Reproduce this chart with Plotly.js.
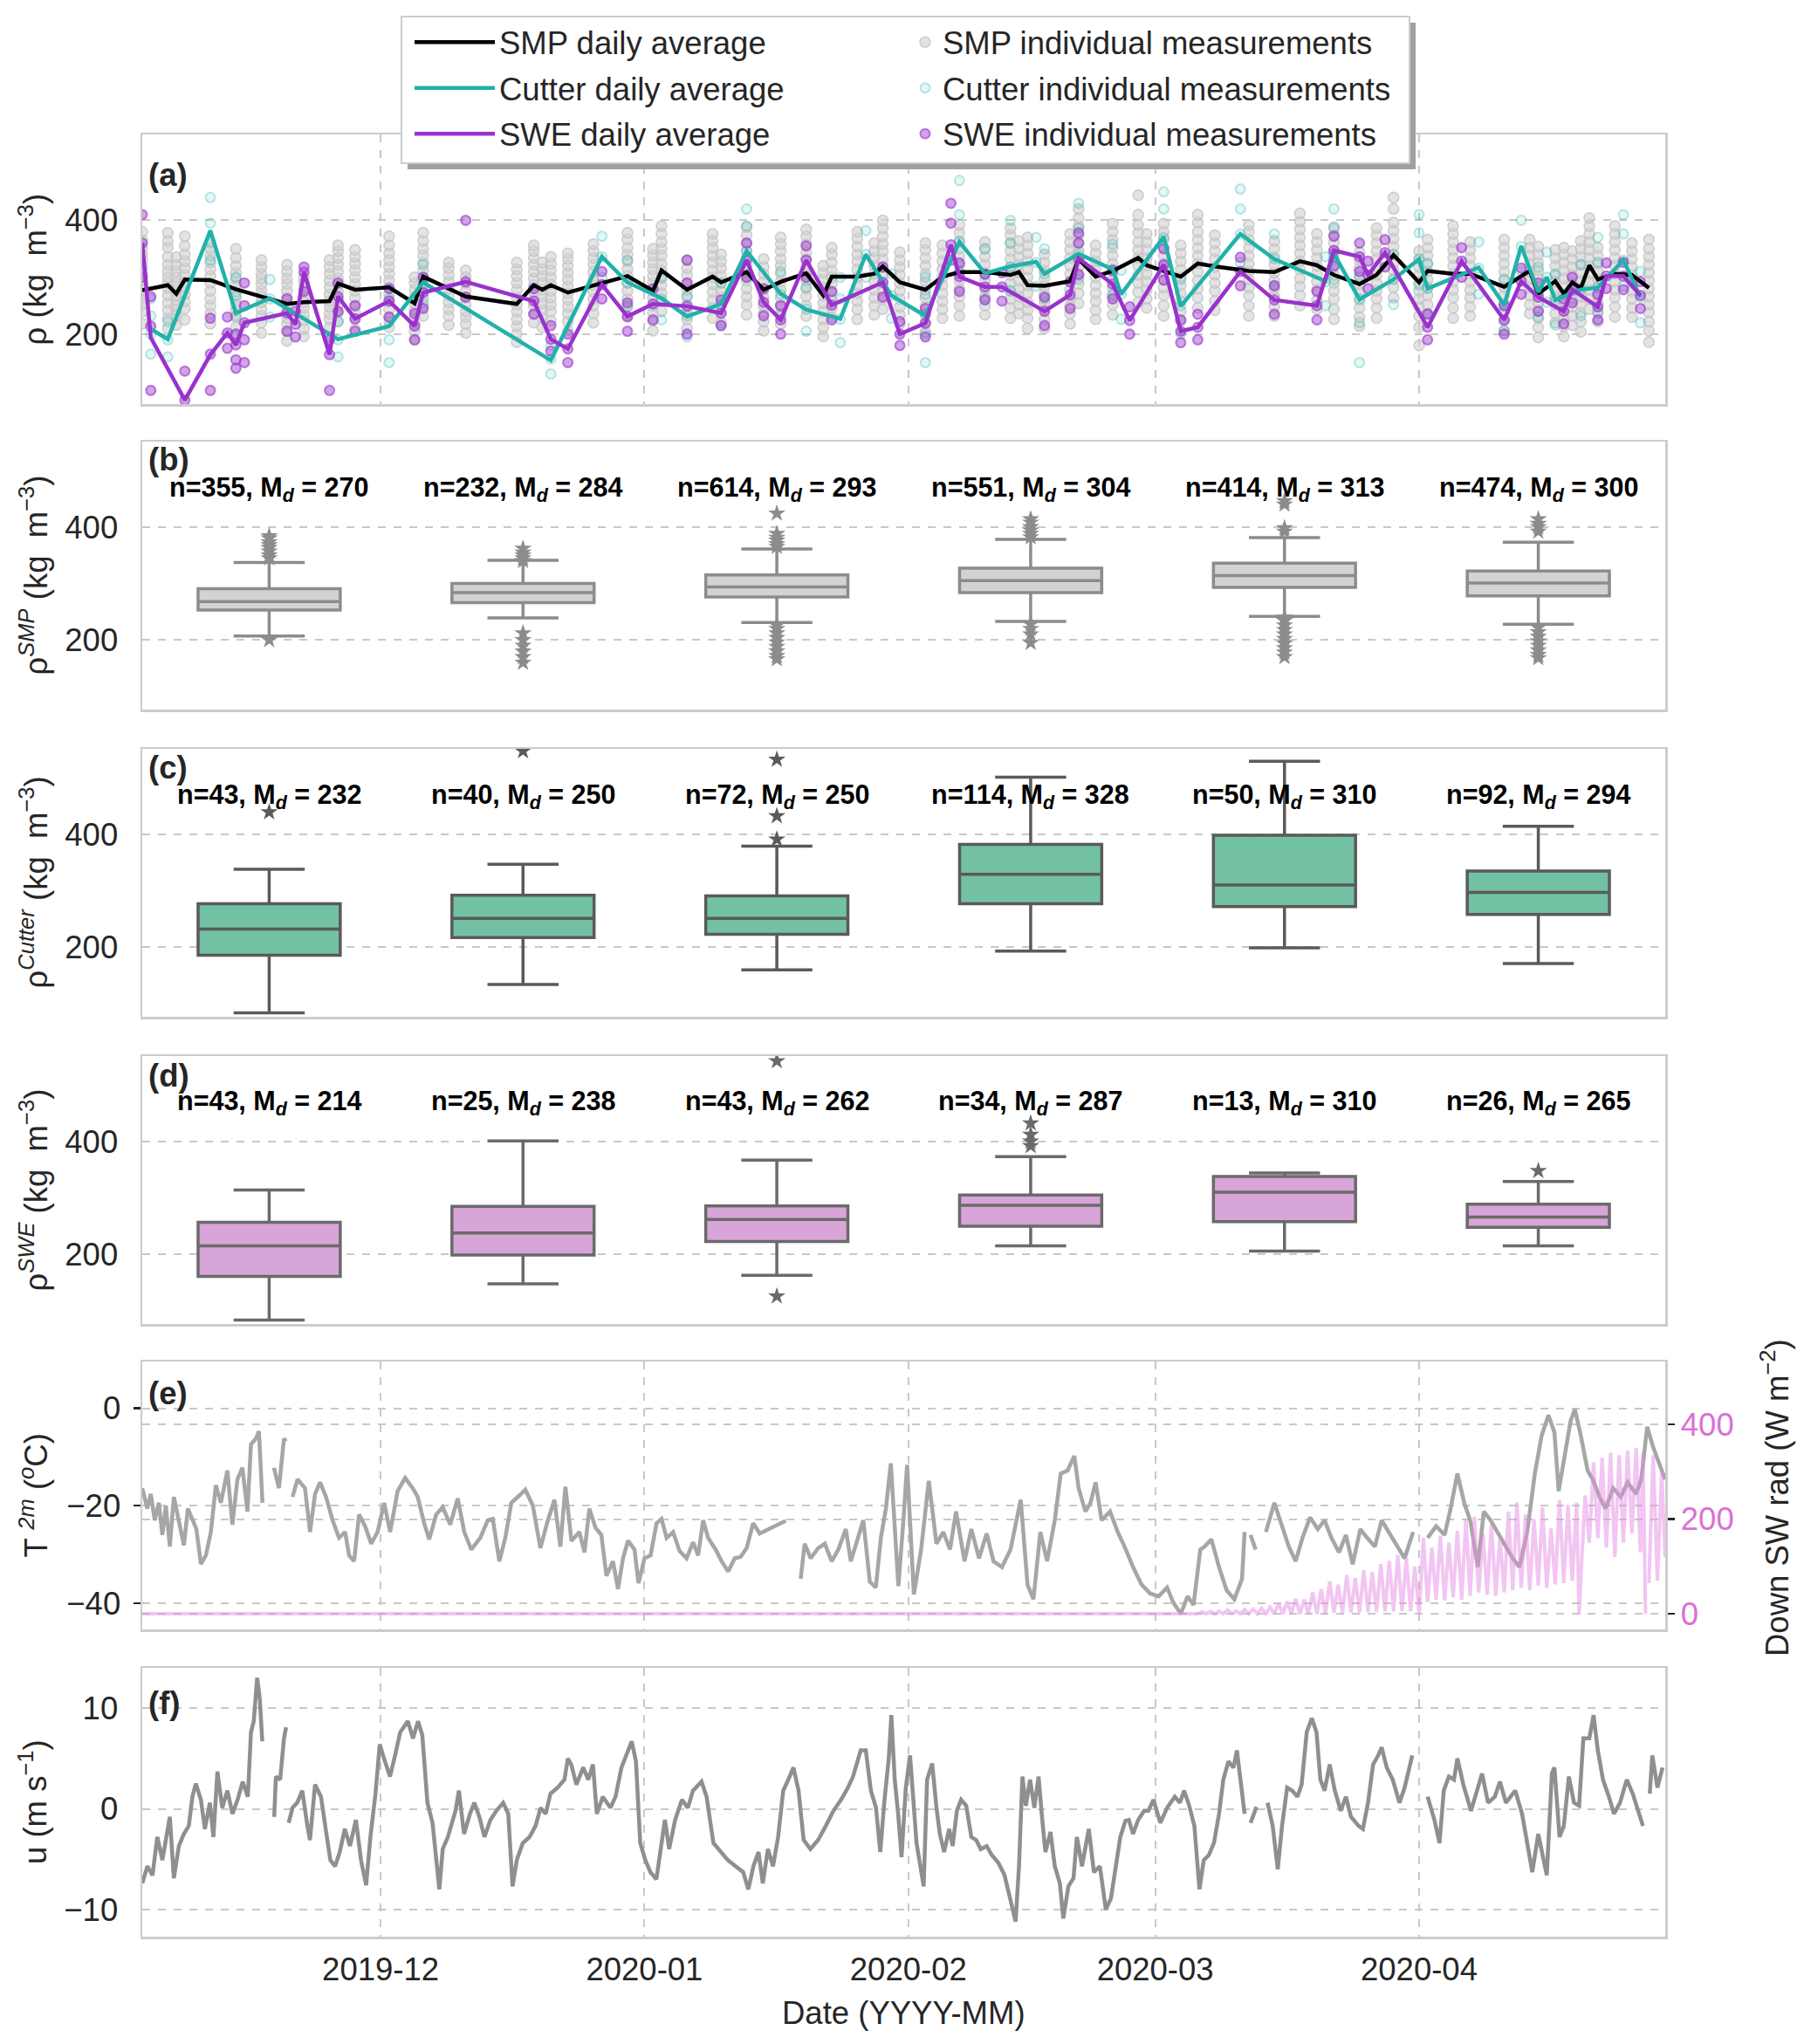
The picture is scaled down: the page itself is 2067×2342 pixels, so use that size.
<!DOCTYPE html>
<html>
<head>
<meta charset="utf-8">
<script src="https://cdn.plot.ly/plotly-3.0.1.min.js"></script>
<style>body{margin:0;background:#fff}</style>
</head>
<body>
<div id="chart_area" style="width:2067px;height:2342px"></div>
<script>
// ---- panel (a): daily averages ----
var smpDates = ['2019-11-03','2019-11-06','2019-11-07','2019-11-08','2019-11-11','2019-11-14','2019-11-17','2019-11-20','2019-11-22','2019-11-25','2019-11-26','2019-11-28',
  '2019-12-02','2019-12-05','2019-12-06','2019-12-09','2019-12-11','2019-12-17','2019-12-19','2019-12-20','2019-12-21','2019-12-23','2019-12-26','2019-12-30',
  '2020-01-02','2020-01-03','2020-01-06','2020-01-09','2020-01-10','2020-01-13','2020-01-15','2020-01-17','2020-01-20','2020-01-22','2020-01-23','2020-01-26','2020-01-28','2020-01-29','2020-01-31',
  '2020-02-03','2020-02-05','2020-02-07','2020-02-10','2020-02-13','2020-02-14','2020-02-15','2020-02-17','2020-02-20','2020-02-21','2020-02-23','2020-02-25','2020-02-28','2020-02-29',
  '2020-03-02','2020-03-04','2020-03-06','2020-03-08','2020-03-12','2020-03-15','2020-03-18','2020-03-20','2020-03-22','2020-03-25','2020-03-27','2020-03-29',
  '2020-04-01','2020-04-02','2020-04-05','2020-04-07','2020-04-11','2020-04-14','2020-04-15','2020-04-17','2020-04-18','2020-04-19','2020-04-20','2020-04-21','2020-04-22','2020-04-24','2020-04-26','2020-04-28'];
var smpAvg = [277,286,271,296,295,279,266,253,256,258,289,278,
  282,254,301,281,266,253,286,278,286,273,286,302,
  276,312,278,301,291,309,278,292,307,268,301,301,306,319,291,
  278,301,309,309,304,309,286,285,293,332,301,311,334,321,
  311,301,324,319,311,309,328,321,304,288,304,339,
  291,311,306,306,283,311,271,293,271,291,281,321,296,306,304,281];
var smpIndiv = [
  [218,240,252,262,270,277,286,295,306,318,330,340,352,365,380],[210,228,242,255,268,281,290,300,311,322,336,352,364,378],
  [216,232,242,250,260,268,278,290,300,310,322,335],[225,245,258,270,282,292,304,316,328,340,355,372],
  [218,236,250,262,276,290,302,314,326,338,350,360],[212,230,242,252,264,275,286,298,308,320,334,350],
  [202,220,232,244,256,266,276,288,298,306,318,330],[188,205,218,228,240,252,264,276,288,298,310,322],
  [196,210,224,234,246,256,268,280,290,300],[196,212,226,236,248,258,270,282,294,306,318,330],
  [222,238,250,262,274,286,298,310,322,334,346,356],[208,226,238,250,264,276,288,300,312,324,336,348],
  [212,230,244,258,270,282,294,306,318,330,342,356,372],[190,205,218,230,242,254,266,278,290,300],
  [232,250,264,276,288,300,312,326,338,350,364,378],[216,232,244,256,268,280,292,304,316,326],
  [202,218,230,240,252,264,276,290,300,312],[186,200,214,226,240,252,264,278,290,302,314,326],
  [220,236,250,262,274,286,298,310,322,334,346,356],[212,228,242,254,266,278,290,302,314,326],
  [224,240,252,264,276,288,300,312,324,336],[206,222,236,248,260,272,284,296,308,320,332,342],
  [220,236,250,262,274,286,298,310,322,334,346,358],[230,248,262,276,290,302,314,328,340,352,366,378],
  [206,224,238,250,264,276,290,302,314,326,338,350],[240,258,272,286,298,312,324,338,350,362,376,390],
  [210,226,240,252,266,278,290,304,316,330],[228,246,260,274,288,300,312,326,338,352,364,376],
  [220,236,250,264,276,290,302,316,328,340],[234,252,266,280,294,308,320,334,346,360,374,388],
  [206,222,236,250,264,278,292,306,318,332],[218,236,250,264,278,292,306,320,332,346,358,370],
  [232,250,266,280,294,306,318,332,344,358,372,384],[196,212,226,240,254,268,282,296,308,320],
  [230,246,260,274,288,300,312,326,340,352],[226,244,258,272,286,300,314,328,340,354,368,380],
  [234,250,264,278,292,306,320,334,346,360],[244,262,276,290,304,318,332,346,358,372,386,400],
  [218,234,248,262,276,290,304,318,330,344],[204,220,234,248,264,278,292,306,320,334,348,360],
  [228,244,258,272,286,300,314,328,342,356],[232,250,266,280,294,308,322,336,350,364,378,392],
  [234,250,266,280,294,308,322,336,350,362],[228,246,262,276,290,304,318,332,346,360,374,386],
  [236,252,266,280,294,308,322,336,350,364],[210,228,242,256,272,286,300,314,328,342,356,370],
  [210,226,242,256,270,284,298,312,326,340],[218,236,250,264,278,292,306,320,334,348,362,376],
  [254,272,288,302,318,332,346,360,374,390,404,420],[226,242,258,272,286,300,314,328,342,356],
  [234,252,268,282,296,310,324,338,352,366,380,394],[256,274,290,304,320,334,348,362,378,392,410,444],
  [246,262,278,292,306,320,334,348,362,376],[232,250,268,282,296,310,324,338,352,366,380,394],
  [224,240,258,272,286,300,314,328,342,356],[246,264,280,294,310,324,338,352,366,380,396,410],
  [242,258,276,290,304,318,332,346,360,374],[232,250,268,282,296,310,324,338,352,366,380,392],
  [232,248,266,280,294,308,322,336,350,364],[250,268,284,298,314,328,342,356,370,384,398,412],
  [244,260,278,292,306,320,334,348,362,376],[226,244,262,276,290,304,318,332,346,360,374,388],
  [214,230,246,260,274,288,302,316,330,344],[228,246,262,276,290,304,318,332,346,360,374,386],
  [264,282,298,312,326,340,354,368,382,396,420,440],[180,212,232,248,262,276,290,304,318,332,346],
  [236,252,268,282,296,310,324,338,352,366],[228,246,264,278,292,306,320,334,348,362,376,390],
  [232,248,264,278,292,306,320,334,348,362],[206,224,240,254,268,282,296,310,324,338,352,366],
  [236,252,268,282,296,310,324,338,352,366],[194,212,228,242,256,270,284,298,312,326,340,354],
  [220,236,252,266,280,292,306,320,334,348],[196,214,228,242,256,270,284,298,312,326,340,352],
  [216,232,248,262,276,290,304,318,332,346],[204,222,238,252,266,280,294,308,322,336,350,364],
  [244,262,278,292,306,320,334,348,362,376,390,404],[222,238,254,268,282,296,310,324,338,352],
  [230,248,264,278,292,306,320,334,348,362,376,390],[230,246,262,276,290,304,318,332,346,360],
  [186,206,222,238,252,266,280,294,308,322,336,350,366]];

var cutDates = ['2019-11-04','2019-11-06','2019-11-11','2019-11-14','2019-11-18','2019-11-26','2019-12-02','2019-12-06','2019-12-21','2019-12-27','2019-12-30',
  '2020-01-03','2020-01-06','2020-01-10','2020-01-13','2020-01-17','2020-01-20','2020-01-24','2020-01-27','2020-01-30',
  '2020-02-03','2020-02-07','2020-02-10','2020-02-13','2020-02-16','2020-02-17','2020-02-21','2020-02-25','2020-02-26',
  '2020-03-02','2020-03-04','2020-03-11','2020-03-15','2020-03-21','2020-03-22','2020-03-25','2020-03-29',
  '2020-04-01','2020-04-02','2020-04-08','2020-04-11','2020-04-13','2020-04-15','2020-04-16','2020-04-17','2020-04-20','2020-04-22','2020-04-25','2020-04-27'];
var cutAvg = [209,191,382,237,263,191,214,291,154,336,291,
  263,231,253,346,271,243,227,340,268,
  232,362,307,319,327,306,341,314,270,
  371,249,376,332,293,341,261,296,
  332,280,317,251,355,274,300,260,278,282,330,265];
var cutIndiv = [
  [165,200,232,262],[160,190,222],[330,362,395,440],[200,232,268,300],[230,262,296],[160,190,222],
  [150,190,222,262],[255,288,322],[130,156,180],[300,336,372],[250,290,330],
  [225,262,300],[195,232,266],[215,252,290],[300,346,390,420],[232,270,310],[205,244,282],[185,226,262,300],[300,340,382],[228,268,306],
  [150,200,235,270,300],[310,362,410,470],[262,306,350],[276,318,360,400],[284,326,370],[262,306,350],[296,340,386,430],[270,314,358],[226,270,312],
  [320,370,420,450],[200,250,296],[326,376,420,455],[286,332,376],[250,292,336],[296,340,386,420],[150,220,262,300],[252,296,340],
  [286,332,378,410],[236,280,324],[270,316,362],[206,250,296],[310,354,400],[230,274,318],[256,300,344],[216,260,304],[232,278,322],[238,282,326,370],[284,330,376,410],[220,265,310]];

var sweDates = ['2019-11-03','2019-11-04','2019-11-08','2019-11-11','2019-11-13','2019-11-14','2019-11-15','2019-11-20','2019-11-21','2019-11-22','2019-11-25','2019-11-26','2019-11-28',
  '2019-12-02','2019-12-05','2019-12-06','2019-12-11','2019-12-19','2019-12-21','2019-12-23','2019-12-27','2019-12-30',
  '2020-01-02','2020-01-06','2020-01-10','2020-01-13','2020-01-15','2020-01-17','2020-01-20','2020-01-23','2020-01-29','2020-01-31',
  '2020-02-03','2020-02-06','2020-02-07','2020-02-10','2020-02-12','2020-02-17','2020-02-20','2020-02-21','2020-02-25','2020-02-27',
  '2020-03-02','2020-03-04','2020-03-06','2020-03-11','2020-03-15','2020-03-20','2020-03-22','2020-03-25','2020-03-26','2020-03-28',
  '2020-04-02','2020-04-06','2020-04-11','2020-04-13','2020-04-15','2020-04-18','2020-04-19','2020-04-22','2020-04-23','2020-04-25','2020-04-27'];
var sweAvg = [360,194,84,164,202,181,220,237,217,309,164,266,227,
  258,214,273,292,258,191,174,287,231,
  253,249,237,330,256,225,330,251,291,200,
  219,357,301,283,283,240,269,333,288,224,
  322,205,212,310,260,250,347,336,304,343,
  212,328,225,293,265,240,278,248,302,302,268];
var sweIndiv = [
  [300,360,410],[101,214,266],[84,135],[101,165,228],[175,202,230],[140,155,181,200],[150,190,220,250,290],
  [205,237,262],[195,217,240],[275,309,318],[101,164,190],[240,266,290],[205,227,250],
  [230,258,280],[190,214,236],[245,273,300],[265,292,400],[235,258,280],[170,191,215],[150,174,200],[262,287,310],[205,231,255],
  [225,253,280],[200,249,290,330],[215,237,260],[300,330,360],[232,256,280],[200,225,250],[300,330,355],[225,251,275],[265,291,318],[180,200,222],
  [195,219,245],[330,357,395,430],[275,301,325],[260,283,305],[258,283,308],[215,240,265],[245,269,292],[305,333,360,378],[262,288,312],[200,224,248],
  [295,322,350],[185,205,225],[190,212,235],[285,310,335],[235,260,285],[225,250,275],[320,347,372],[310,336,360],[280,304,328],[318,343,366],
  [190,212,235],[300,328,352],[200,225,250],[270,293,316],[240,265,290],[218,240,262],[255,278,300],[225,248,270],[280,302,325],[278,302,326],[245,268,292]];

// ---- panels (b)-(d): monthly boxes ----
var months = ['2019-11','2019-12','2020-01','2020-02','2020-03','2020-04'];
var smpN = [355,232,614,551,414,474], smpMd = [270,284,293,304,313,300];
var smpQ1 = [253,266,276,284,293,278], smpMed = [268,284,294,305,314,301], smpQ3 = [291,300,315,327,336,322];
var smpLo = [207,239,231,233,242,228], smpHi = [337,341,361,378,381,373];
var smpOut = [[345,350,357,363,368,373,380,384,200],[340,345,350,355,362,212,200,190,180,170,160],
  [365,370,376,381,388,424,226,220,212,204,196,188,180,172,166],[382,388,394,400,408,414,228,220,210,195],
  [392,398,440,446,240,234,226,218,210,202,194,186,178,170],[392,400,406,414,222,214,206,198,190,182,174,168]];
var cutN = [43,40,72,114,50,92], cutMd = [232,250,250,328,310,294];
var cutQ1 = [186,217,223,277,272,258], cutMed = [232,251,251,329,310,297], cutQ3 = [277,292,291,382,398,335];
var cutLo = [84,134,160,193,199,171], cutHi = [338,347,379,501,529,414];
var cutOut = [[439],[547],[391,432,532],[],[],[]];
var sweN = [43,25,43,34,13,26], sweMd = [214,238,262,287,310,265];
var sweQ1 = [161,199,223,250,258,248], sweMed = [215,238,262,287,310,266], sweQ3 = [257,285,286,305,338,289];
var sweLo = [84,148,163,215,206,215], sweHi = [314,401,367,373,344,329];
var sweOut = [[],[],[126,542],[392,400,412,432],[],[348]];

// ---- panel (e): 2 m air temperature and downwelling SW (days since 2019-11-01) ----
var tempDay = [2.0,2.59,3.0,3.47,3.95,4.36,4.77,5.24,5.71,6.3,6.89,7.36,7.89,8.36,8.89,9.47,10.06,10.65,11.24,12.0,12.59,13.18,13.77,14.36,14.77,15.36,15.71,16.12,16.6,
  17.47,18.06,18.65,18.89,19.2,19.65,20.24,21.12,21.71,22.3,22.89,23.59,24.36,25.12,25.83,26.3,26.89,27.47,28.18,28.89,29.65,30.42,31.12,32.0,32.89,33.77,34.36,
  35.12,35.71,36.53,37.3,38.18,39.06,39.83,40.65,41.71,42.59,43.18,43.95,44.65,45.36,46.3,47.0,47.89,48.77,49.65,50.42,51.12,51.71,52.42,53.36,53.95,54.53,
  55.24,55.94,56.53,57.3,57.89,58.48,59.06,59.83,60.3,61.0,61.71,62.42,63.0,63.6,64.36,65.12,65.94,66.71,67.3,67.89,68.47,69.36,70.06,70.83,71.6,72.3,73.0,
  73.77,74.53,75.24,76.12,77.0,77.6,78.5,79.35,79.82,80.53,81.41,82.18,83.0,83.77,84.65,85.24,85.94,86.71,87.47,88.18,88.77,89.36,89.94,90.42,90.83,91.42,
  91.85,92.65,93.5,94.4,95.3,96.1,96.9,97.6,98.6,99.4,100.3,101.2,102.0,103.0,104.0,105.2,106.0,106.7,107.5,108.3,109.2,109.9,110.7,111.5,112.0,112.8,113.4,
  114.0,114.7,115.7,116.6,117.4,118.4,119.4,120.4,121.4,122.4,123.1,124.0,124.8,125.5,126.3,126.8,127.6,128.5,129.4,130.3,131.2,131.5,131.8,132.2,132.8,133.4,
  134.0,135.0,135.9,136.7,137.5,138.3,139.2,140.1,140.9,141.7,142.6,143.4,144.2,145.1,145.9,146.8,147.6,148.4,149.3,150.3,151.3,152.0,153.0,154.0,155.0,155.7,
  156.5,157.3,158.0,158.9,159.6,160.4,161.2,162.0,163.0,163.8,164.7,165.6,166.4,167.2,167.9,168.4,169.1,169.8,170.3,171.0,171.8,172.4,173.2,173.9,174.8,175.7,
  176.5,177.5,178.1,178.8,179.5,180.2,180.9];
var tempVal = [-16.4,-20.6,-17.6,-23.0,-19.4,-26.0,-20.0,-28.4,-18.2,-23.6,-28.1,-20.6,-23.0,-24.8,-32.0,-30.2,-25.4,-15.8,-19.4,-12.8,-23.9,-14.6,-12.2,-21.2,-7.4,-6.2,-4.7,-19.4,null,
  -12.2,-16.4,-6.2,-6.8,null,-18.2,-14.6,-16.4,-25.4,-17.6,-15.2,-18.2,-23.0,-26.6,-25.4,-30.2,-31.4,-21.8,-24.2,-27.8,-25.4,-19.4,-25.4,-17.0,-14.3,-16.4,-18.2,
  -23.6,-26.9,-21.8,-20.3,-23.9,-18.5,-25.4,-29.0,-26.6,-23.0,-22.7,-31.4,-26.6,-19.4,-17.9,-16.7,-20.0,-28.7,-23.0,-18.8,-28.4,-16.1,-27.2,-25.4,-29.6,-20.6,
  -24.5,-26.0,-34.4,-31.4,-37.1,-30.8,-27.2,-29.0,-35.9,-30.8,-30.2,-23.6,-22.7,-26.6,-25.4,-29.3,-30.8,-27.5,-30.2,-23.0,-26.6,-29.0,-31.4,-33.5,-30.8,-30.5,-28.7,
  -23.6,-25.7,-25.1,-24.2,-23.6,-23.1,null,-35.0,-27.8,-30.8,-28.7,-27.8,-31.4,-29.0,-24.8,-31.4,-27.2,-23.0,-35.6,-36.8,-26.6,-20.6,-11.3,-24.8,-36.5,-23.0,
  -11.6,-38.2,-29.0,-14.9,-27.8,-25.4,-29.0,-21.2,-31.4,-24.8,-30.8,-25.7,-31.4,-32.6,-29.0,-18.8,-36.2,-39.2,-25.4,-31.4,-23.0,-13.4,-12.8,-9.8,-16.4,-21.2,-19.4,
  -15.2,-23.0,-21.2,-25.4,-28.4,-32.6,-36.2,-38.0,-38.6,-36.8,-39.8,-42.2,-38.6,-40.4,-29.0,-28.4,-26.9,-32.6,-37.4,-39.2,-35.0,-25.4,null,-26.0,-29.0,null,
  -25.4,-19.4,-24.2,-28.4,-31.4,-26.6,-22.4,-24.8,-23.0,-26.6,-29.6,-26.0,-32.0,-24.8,-26.6,-28.4,-23.0,-25.4,-27.8,-30.8,-25.4,null,-26.6,-24.2,-26.0,-20.6,
  -13.4,-19.4,-23.0,-32.6,-21.2,-23.0,-25.4,-27.8,-30.8,-32.6,-25.4,-13.4,-5.6,-1.4,-5.0,-17.0,-9.2,-2.6,-0.2,-5.6,-12.8,-14.6,-18.2,-20.6,-16.4,-18.2,
  -15.2,-17.6,-14.6,-3.8,-8.0,-11.6,-14.6];

var swDay = [2,125,126,126.5,127,127.5,128,128.5,129,129.5,130,130.5,131,131.5,132,132.5,133,133.5,134,134.5,135,135.5,136,136.5,137,137.5,138,138.5,
  139,139.5,140,140.5,141,141.5,142,142.5,143,143.5,144,144.5,145,145.5,146,146.5,147,147.5,148,148.5,149,149.5,150,150.5,151,151.5,152,152.5,
  153,153.5,154,154.5,155,155.5,156,156.5,157,157.5,158,158.5,159,159.5,160,160.5,161,161.5,162,162.5,163,163.5,164,164.5,165,165.5,166,166.5,
  167,167.5,168,168.5,169,169.5,170,170.5,170.8,171,171.5,172,172.5,173,173.5,174,174.5,175,175.5,176,176.5,177,177.5,178,178.3,178.6,178.7,179,179.5,180,180.5,180.9];
var swVal = [0,0,0,4,0,5,0,6,0,8,0,6,0,9,0,10,0,12,0,14,0,22,0,26,0,32,0,30,
  0,45,0,52,0,69,2,62,2,82,3,76,3,92,4,88,4,105,5,112,5,124,6,118,6,100,0,160,
  25,140,30,165,28,150,35,175,30,200,38,205,45,170,40,190,38,160,45,215,50,235,55,210,50,200,60,225,
  55,180,62,240,65,230,70,235,0,75,250,150,320,160,330,140,340,120,335,150,345,170,350,130,340,0,null,65,335,70,300,120];

// ---- panel (f): wind component u (days since 2019-11-01) ----
var windDay = [2.0,2.6,3.2,3.77,4.36,4.77,5.24,5.71,6.3,6.89,7.47,7.89,8.3,8.89,9.36,9.94,10.36,10.83,11.4,12.0,12.6,13.2,13.8,14.4,14.77,15.1,15.5,15.8,16.1,16.8,
  17.5,17.7,18.2,18.65,18.9,19.05,19.2,19.65,20.2,20.8,21.4,21.7,22.3,23.0,23.6,24.1,24.65,25.2,25.8,26.4,27.1,27.7,28.3,28.8,29.4,29.9,30.4,31.1,31.7,32.3,
  33.2,33.8,34.4,34.9,35.5,36.1,36.9,37.3,37.9,38.8,39.2,39.8,40.5,41.0,41.6,42.2,42.9,43.6,44.4,45.0,45.5,46.0,46.7,47.5,48.2,48.8,49.4,49.95,50.8,51.6,
  52.0,52.4,53.0,53.8,54.4,54.95,55.4,56.1,57.0,57.6,58.3,59.1,59.5,60.0,60.5,61.1,61.7,62.4,62.9,63.4,63.9,64.6,65.4,66.1,66.7,67.7,68.3,69.1,70.0,70.8,
  71.7,72.6,73.2,73.8,74.4,74.9,75.5,76.1,76.7,77.3,77.9,78.5,79.1,79.7,80.5,81.4,82.3,83.2,84.1,84.9,85.5,86.4,87.0,87.6,88.2,88.7,89.2,89.7,90.0,90.4,
  90.8,91.2,91.7,92.2,92.96,93.4,93.8,94.2,94.8,95.3,95.7,96.2,96.8,97.2,97.7,98.2,98.8,99.4,99.97,100.5,101.2,101.8,102.6,103.3,104.0,104.6,105.0,105.4,
  105.8,106.3,106.8,107.3,107.7,108.1,108.7,109.2,109.8,110.2,110.8,111.4,111.8,112.4,113.2,113.8,114.5,115.2,115.8,116.4,116.9,117.5,117.9,118.4,119.0,
  119.7,120.2,120.8,121.6,122.4,123.3,123.9,124.4,125.0,125.6,126.2,126.7,127.3,127.9,128.5,129.0,129.6,130.2,130.6,131.0,131.5,131.85,132.2,132.9,133.5,
  134.2,134.8,135.4,135.9,136.5,137.1,137.7,138.2,138.8,139.4,139.95,140.4,140.9,141.5,142.1,142.8,143.4,144.0,144.9,145.4,146.0,146.6,147.2,147.6,148.2,
  148.9,149.7,150.3,151.2,152.0,153.0,153.8,154.4,154.9,155.5,156.1,156.5,157.2,158.1,158.8,159.4,160.1,160.9,161.5,162.2,163.3,164.1,164.7,165.3,166.0,
  166.7,167.0,167.6,167.9,168.5,169.0,169.6,170.2,170.8,171.3,172.0,172.5,173.0,173.6,174.3,174.9,175.6,176.4,177.1,177.8,178.3,178.7,179.1,179.4,180.0,180.6];
var windVal = [-7.4,-5.7,-6.6,-2.8,-5.1,-3.1,-0.8,-6.9,-3.7,-2.5,-1.7,1.2,2.5,0.9,-2.0,0.6,-2.8,3.7,0.1,1.8,-0.5,0.9,2.7,1.2,7.6,8.7,13.0,11.0,6.7,null,
  -0.8,3.2,2.9,7.0,8.1,null,-1.4,0.1,0.6,1.8,-1.7,-3.1,2.4,1.2,-2.3,-5.1,-5.7,-4.3,-2.0,-3.7,-1.1,-5.1,-7.6,-2.8,1.5,6.4,5.0,3.2,5.3,7.6,
  8.7,7.0,8.7,7.3,0.6,-1.4,-8.0,-4.0,-2.8,-0.2,1.8,-2.5,-0.5,0.6,-0.8,-2.8,-1.1,-0.2,0.6,-0.5,-7.7,-5.1,-3.4,-2.8,-1.7,0.1,-0.5,1.5,2.1,2.9,
  5.0,4.4,2.4,4.1,2.9,4.4,-0.5,1.2,0.1,1.2,4.1,5.8,6.7,4.7,-3.4,-5.1,-6.3,-7.0,-4.0,-1.1,-4.0,-1.1,0.9,0.1,1.8,2.7,1.2,-3.4,-4.3,-5.1,
  -5.7,-6.3,-8.0,-5.7,-4.3,-7.4,-4.0,-5.7,-2.8,1.8,2.9,4.1,1.8,-3.1,-4.0,-3.1,-1.7,-0.2,0.9,2.1,3.2,5.8,5.8,1.8,0.1,-4.3,0.9,5.0,9.3,2.9,
  -0.5,-4.8,2.1,5.3,-3.4,-5.7,-7.7,2.9,4.5,0.1,-2.5,-4.3,-2.0,-3.7,-0.2,0.9,0.3,-2.8,-3.1,-4.0,-3.7,-4.6,-5.4,-6.6,-8.9,-11.2,-5.7,3.2,
  0.3,2.9,0.1,3.2,-0.8,-4.3,-2.3,-5.7,-7.4,-10.9,-7.7,-6.9,-2.8,-5.7,-2.0,-6.3,-5.7,-10.0,-8.9,-5.7,-2.8,-1.2,-1.1,-2.5,-1.1,
  -0.2,-0.2,0.9,-1.4,0.1,1.2,0.6,1.8,0.3,-1.7,-8.0,-5.1,-4.6,-3.4,-0.5,2.9,4.7,4.1,5.8,2.9,-0.5,null,-1.4,0.2,null,
  0.6,-1.7,-6.0,-1.7,2.1,1.8,1.2,2.4,7.6,9.0,7.6,2.9,1.8,4.4,1.8,-0.2,1.2,-0.8,-1.7,-2.0,0.6,4.4,5.3,6.1,4.1,
  2.9,0.6,2.1,5.3,null,1.2,-1.1,-3.4,1.8,3.2,2.9,5.0,2.4,-0.2,1.8,3.5,0.6,1.2,2.7,0.6,1.8,-0.5,-3.4,-6.3,-2.5,
  -5.4,-6.6,3.5,4.1,-2.8,-1.7,3.2,0.6,0.3,7.0,7.0,9.3,5.8,2.9,1.2,-0.5,0.6,2.9,1.5,-0.2,-1.7,null,1.5,5.3,2.1,4.1];

// ---------------------------------------------------------------
var W = 2067, H = 2342;
var X0 = 163, X1 = 1908;
var START = Date.UTC(2019, 10, 1);
var FONT = 'Liberation Sans, Arial, sans-serif';
var FS = 36.5;
var TXT = '#262626';
var FRAME = '#cccccc';

function dayToDate(d) {
  return new Date(START + d * 86400000).toISOString().replace('T', ' ').slice(0, 19);
}
function ydom(top, bottom) { return [1 - bottom / H, 1 - top / H]; }
function flat(dates, lists) {
  var x = [], y = [];
  for (var i = 0; i < dates.length && i < lists.length; i++) {
    for (var j = 0; j < lists[i].length; j++) { x.push(dates[i]); y.push(lists[i][j]); }
  }
  return {x: x, y: y};
}

var panels = [[154, 463], [506, 813], [858, 1165], [1210, 1517], [1560, 1867], [1911, 2219]];
var xdom = [X0 / W, X1 / W];
var dateRange = ['2019-11-03 00:00', '2020-04-29 22:00'];

var smpPts = flat(smpDates, smpIndiv);
var cutPts = flat(cutDates, cutIndiv);
var swePts = flat(sweDates, sweIndiv);

var data = [
  { type: 'scatter', mode: 'markers', x: smpPts.x, y: smpPts.y, name: 'SMP individual measurements', legend: 'legend2', legendgroup: 'g4',
    marker: { size: 12, color: 'rgba(208,208,208,0.6)', line: { color: 'rgba(195,195,195,0.8)', width: 1.5 } } },
  { type: 'scatter', mode: 'markers', x: cutPts.x, y: cutPts.y, name: 'Cutter individual measurements', legend: 'legend2', legendgroup: 'g5',
    marker: { size: 11, color: 'rgba(32,178,170,0.12)', line: { color: 'rgba(32,178,170,0.3)', width: 2 } } },
  { type: 'scatter', mode: 'markers', x: swePts.x, y: swePts.y, name: 'SWE individual measurements', legend: 'legend2', legendgroup: 'g6',
    marker: { size: 11, color: 'rgba(153,50,204,0.45)', line: { color: 'rgba(153,50,204,0.6)', width: 2 } } },
  { type: 'scatter', mode: 'lines', x: smpDates, y: smpAvg, name: 'SMP daily average', legend: 'legend', legendgroup: 'g1',
    line: { color: '#000000', width: 4.5 } },
  { type: 'scatter', mode: 'lines', x: cutDates, y: cutAvg, name: 'Cutter daily average', legend: 'legend', legendgroup: 'g2',
    line: { color: '#20b2aa', width: 4.5 } },
  { type: 'scatter', mode: 'lines', x: sweDates, y: sweAvg, name: 'SWE daily average', legend: 'legend', legendgroup: 'g3',
    line: { color: '#9932cc', width: 4.5 } }
];

function addBoxes(xa, ya, q1, med, q3, lo, hi, out, fill, edge) {
  data.push({ type: 'box', xaxis: xa, yaxis: ya, x: months, q1: q1, median: med, q3: q3,
    lowerfence: lo, upperfence: hi, boxpoints: false, whiskerwidth: 0.5, showlegend: false,
    fillcolor: fill, line: { color: edge, width: 3.5 }, hoverinfo: 'skip' });
  var ox = [], oy = [];
  for (var i = 0; i < out.length; i++) for (var j = 0; j < out[i].length; j++) { ox.push(months[i]); oy.push(out[i][j]); }
  data.push({ type: 'scatter', mode: 'markers', xaxis: xa, yaxis: ya, x: ox, y: oy, showlegend: false,
    marker: { symbol: 'star', size: 15, color: edge } });
}
addBoxes('x2', 'y2', smpQ1, smpMed, smpQ3, smpLo, smpHi, smpOut, '#d3d3d3', '#8c8c8c');
addBoxes('x3', 'y3', cutQ1, cutMed, cutQ3, cutLo, cutHi, cutOut, '#72c1a3', '#5a5a5a');
addBoxes('x4', 'y4', sweQ1, sweMed, sweQ3, sweLo, sweHi, sweOut, '#d7a5d7', '#6a6a6a');

data.push({ type: 'scatter', mode: 'lines', xaxis: 'x5', yaxis: 'y5', x: tempDay.map(dayToDate), y: tempVal,
  showlegend: false, line: { color: '#a6a6a6', width: 4.5 }, connectgaps: false });
data.push({ type: 'scatter', mode: 'lines', xaxis: 'x5', yaxis: 'y7', x: swDay.map(dayToDate), y: swVal,
  showlegend: false, line: { color: 'rgba(230,140,230,0.5)', width: 4 }, connectgaps: false });
data.push({ type: 'scatter', mode: 'lines', xaxis: 'x6', yaxis: 'y6', x: windDay.map(dayToDate), y: windVal,
  showlegend: false, line: { color: '#8f8f8f', width: 4.5 }, connectgaps: false });

function frame(extra) {
  var a = { showline: true, mirror: true, linecolor: FRAME, linewidth: 2.5, zeroline: false,
    tickfont: { family: FONT, size: FS, color: TXT }, gridcolor: '#c8c8c8', gridwidth: 2, griddash: 'dash', ticks: '' };
  for (var k in extra) a[k] = extra[k];
  return a;
}
function dateAxis(i, labels) {
  return frame({ type: 'date', domain: xdom, anchor: i === 1 ? 'y' : 'y' + i, range: dateRange, dtick: 'M1',
    tick0: '2019-11-01', tickformat: '%Y-%m', showgrid: true, showticklabels: labels, ticklabelstandoff: 4 });
}
function catAxis(i) {
  return frame({ type: 'category', domain: xdom, anchor: 'y' + i, range: [-0.5, 5.5], showgrid: false, showticklabels: false });
}
function rhoAxis(i) {
  return frame({ domain: ydom(panels[i][0], panels[i][1]), anchor: i === 0 ? 'x' : 'x' + (i + 1), range: [77, 551],
    tickvals: [200, 400], showgrid: true, ticklabelstandoff: 18 });
}

var layout = {
  width: W, height: H, margin: { l: 0, r: 0, t: 0, b: 0 },
  paper_bgcolor: '#ffffff', plot_bgcolor: '#ffffff',
  font: { family: FONT, size: FS, color: TXT },
  boxgap: 0.2,
  xaxis: dateAxis(1, false),
  xaxis2: catAxis(2), xaxis3: catAxis(3), xaxis4: catAxis(4),
  xaxis5: dateAxis(5, false),
  xaxis6: dateAxis(6, true),
  yaxis: rhoAxis(0), yaxis2: rhoAxis(1), yaxis3: rhoAxis(2), yaxis4: rhoAxis(3),
  yaxis5: frame({ domain: ydom(panels[4][0], panels[4][1]), anchor: 'x5', range: [-45.4, 9.6], tickvals: [-40, -20, 0],
    showgrid: true, ticks: 'outside', ticklen: 8, tickwidth: 2.5, tickcolor: TXT, ticklabelstandoff: 7 }),
  yaxis7: frame({ overlaying: 'y5', side: 'right', anchor: 'x5', range: [-33, 533], tickvals: [0, 200, 400], showgrid: true,
    ticks: 'outside', ticklen: 8, tickwidth: 2.5, tickcolor: TXT, ticklabelstandoff: 0,
    tickfont: { family: FONT, size: FS, color: '#da70d6' } }),
  yaxis6: frame({ domain: ydom(panels[5][0], panels[5][1]), anchor: 'x6', range: [-12.7, 14.0], tickvals: [-10, 0, 10],
    showgrid: true, ticklabelstandoff: 18 }),
  legend: { x: 470 / W, y: 1 - 18 / H, xanchor: 'left', yanchor: 'top', bgcolor: 'rgba(0,0,0,0)', borderwidth: 0,
    font: { family: FONT, size: FS, color: TXT }, itemwidth: 92, tracegroupgap: 2 },
  legend2: { x: 1040 / W, y: 1 - 18 / H, xanchor: 'left', yanchor: 'top', bgcolor: 'rgba(0,0,0,0)', borderwidth: 0,
    font: { family: FONT, size: FS, color: TXT }, itemwidth: 30, tracegroupgap: 2 },
  shapes: [
    { type: 'rect', xref: 'paper', yref: 'paper', layer: 'above', x0: 467 / W, x1: 1622 / W, y0: 1 - 194 / H, y1: 1 - 26 / H,
      fillcolor: '#a0a0a0', line: { width: 0 } },
    { type: 'rect', xref: 'paper', yref: 'paper', layer: 'above', x0: 460 / W, x1: 1615 / W, y0: 1 - 187 / H, y1: 1 - 19 / H,
      fillcolor: '#ffffff', line: { color: FRAME, width: 2 } }
  ],
  annotations: []
};

// panel letters
var letters = ['(a)', '(b)', '(c)', '(d)', '(e)', '(f)'];
var letterY = [200, 527, 879, 1232, 1596, 1951];
letters.forEach(function (t, i) {
  layout.annotations.push({ xref: 'paper', yref: 'paper', x: 168 / W, y: 1 - letterY[i] / H, xanchor: 'left', yanchor: 'middle',
    text: '<b>' + t + '</b>', showarrow: false, font: { family: FONT, size: FS, color: TXT } });
});

// n / median labels above boxes
function boxLabels(xa, labelY, n, md) {
  for (var i = 0; i < months.length; i++) {
    layout.annotations.push({ xref: xa, yref: 'paper', x: months[i], y: 1 - labelY / H, xanchor: 'center', yanchor: 'middle',
      text: '<b>n=' + n[i] + ', M<sub><i>d</i></sub> = ' + md[i] + '</b>', showarrow: false,
      font: { family: FONT, size: 30.5, color: '#000000' } });
  }
}
boxLabels('x2', 561, smpN, smpMd);
boxLabels('x3', 912, cutN, cutMd);
boxLabels('x4', 1263, sweN, sweMd);

// axis titles
var ytitles = ['ρ (kg  m<sup>−3</sup>)', 'ρ<sup><i>SMP</i></sup> (kg  m<sup>−3</sup>)', 'ρ<sup><i>Cutter</i></sup> (kg  m<sup>−3</sup>)',
  'ρ<sup><i>SWE</i></sup> (kg  m<sup>−3</sup>)', 'T <sup><i>2m</i></sup> (<sup><i>o</i></sup>C)', 'u (m s<sup>−1</sup>)'];
ytitles.forEach(function (t, i) {
  layout.annotations.push({ xref: 'paper', yref: 'paper', x: 38 / W, y: 1 - (panels[i][0] + panels[i][1]) / 2 / H,
    xanchor: 'center', yanchor: 'middle', textangle: -90, text: t, showarrow: false, font: { family: FONT, size: FS, color: TXT } });
});
layout.annotations.push({ xref: 'paper', yref: 'paper', x: 2034 / W, y: 1 - 1716 / H, xanchor: 'center', yanchor: 'middle', textangle: -90,
  text: 'Down SW rad (W m<sup>−2</sup>)', showarrow: false, font: { family: FONT, size: FS, color: TXT } });
layout.annotations.push({ xref: 'paper', yref: 'paper', x: (X0 + X1) / 2 / W, y: 1 - 2306 / H, xanchor: 'center', yanchor: 'middle',
  text: 'Date (YYYY-MM)', showarrow: false, font: { family: FONT, size: FS, color: TXT } });

Plotly.newPlot('chart_area', data, layout, { displayModeBar: false, staticPlot: true });
</script>
</body>
</html>
